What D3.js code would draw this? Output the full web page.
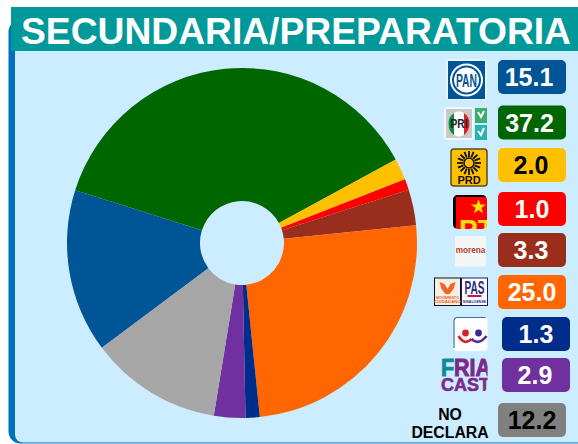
<!DOCTYPE html>
<html>
<head>
<meta charset="utf-8">
<script src="https://cdn.jsdelivr.net/npm/d3@7"></script>
<style>
html, body { margin: 0; padding: 0; background: #fff; }
svg { display: block; font-family: "Liberation Sans", Arial, sans-serif; }
</style>
</head>
<body>
<div id="chart"></div>
<script>
'use strict';

var parties = ['PAN', 'PRI-PVEM-NA', 'PRD', 'PT', 'MORENA', 'MC-PAS', 'PES', 'FRIAS', 'NO DECLARA'];
var shares = [15.1, 37.2, 2.0, 1.0, 3.3, 25.0, 1.3, 2.9, 12.2];
var colors = ['#005596', '#006600', '#FFC000', '#FF0000', '#992E1C', '#FF6600', '#002D8A', '#7030A0', '#A6A6A6'];
var badgeColors = ['#005596', '#006600', '#FFC000', '#FF0000', '#992E1C', '#FF6600', '#002D8A', '#7030A0', '#808080'];
var labelColors = ['#fff', '#fff', '#000', '#fff', '#fff', '#fff', '#fff', '#fff', '#000'];
var title = 'SECUNDARIA/PREPARATORIA';

var width = 578, height = 444;
var svg = d3.select('#chart').append('svg').attr('width', width).attr('height', height);

// panel and title bar
svg.append('rect').attr('x', 8.5).attr('y', 20).attr('width', 620).attr('height', 423.5).attr('rx', 12)
    .attr('fill', '#0070C0');
svg.append('rect').attr('x', 15).attr('y', 12).attr('width', 620).attr('height', 430.5).attr('rx', 8)
    .attr('fill', '#CCECFF');
svg.append('rect').attr('x', 11).attr('y', 7).attr('width', 567).attr('height', 44).attr('fill', '#009999');
svg.append('text').attr('x', 21).attr('y', 44).attr('font-size', 37).attr('font-weight', 'bold')
    .attr('textLength', 550).attr('lengthAdjust', 'spacingAndGlyphs')
    .attr('fill', '#fff').text(title);

// pie
var pie = d3.pie().sort(null).value(function(d){ return d; })
    .startAngle(233.2 * Math.PI / 180).endAngle((233.2 + 360) * Math.PI / 180);
var arc = d3.arc().innerRadius(42).outerRadius(175);

svg.append('g').attr('transform', 'translate(242,243)')
    .selectAll('path').data(pie(shares)).enter().append('path')
    .attr('d', arc)
    .attr('fill', function(d, i){ return colors[i]; });

// value badges, the rows are not evenly spaced in the original
var badgeTops = [60, 105.5, 148, 192, 233, 275, 317, 358, 403];
var labelShift = [-3, -2.5, -1, 0, -1, 0, 0, -1, 0];
var badgeX = function(i){ return (i === 6 || i === 7) ? 502 : 498; };

var badges = svg.append('g').selectAll('g').data(shares).enter().append('g')
    .attr('transform', function(d, i){ return 'translate(' + badgeX(i) + ',' + badgeTops[i] + ')'; });
badges.append('rect').attr('width', 68).attr('height', 34).attr('rx', 5)
    .attr('fill', function(d, i){ return badgeColors[i]; });
badges.append('text').attr('x', function(d, i){ return 34 + labelShift[i]; }).attr('y', 26).attr('text-anchor', 'middle')
    .attr('font-size', 25).attr('font-weight', 'bold')
    .attr('fill', function(d, i){ return labelColors[i]; })
    .text(function(d){ return d.toFixed(1); });

// logos, rough redraws
var logos = svg.append('g');

function logoText(g, x, y, size, txt, fill) {
    return g.append('text').attr('x', x).attr('y', y).attr('font-size', size)
        .attr('font-weight', 'bold').attr('text-anchor', 'middle').attr('fill', fill).text(txt);
}

// PAN
var pan = logos.append('g').attr('transform', 'translate(447,60)');
pan.append('rect').attr('x', -1).attr('y', -1).attr('width', 41).attr('height', 41).attr('rx', 3).attr('fill', '#eaf6fc');
pan.append('rect').attr('x', 1).attr('y', 1).attr('width', 37).attr('height', 38).attr('fill', '#005596');
pan.append('circle').attr('cx', 19.5).attr('cy', 20).attr('r', 16.5).attr('fill', '#fff');
pan.append('circle').attr('cx', 19.5).attr('cy', 20).attr('r', 14.5).attr('fill', '#005596');
pan.append('circle').attr('cx', 19.5).attr('cy', 20).attr('r', 12.5).attr('fill', '#fff');
logoText(pan, 19.5, 27, 19, 'PAN', '#005596').attr('textLength', 21).attr('lengthAdjust', 'spacingAndGlyphs');

// PRI + PVEM + NA
var pri = logos.append('g').attr('transform', 'translate(445,108)');
pri.append('rect').attr('x', -1).attr('y', -1).attr('width', 30).attr('height', 33).attr('rx', 3).attr('fill', '#f2f8fb');
pri.append('rect').attr('x', 1).attr('y', 1).attr('width', 26).attr('height', 29).attr('rx', 1).attr('fill', '#c9c9c9');
pri.append('ellipse').attr('cx', 14).attr('cy', 16).attr('rx', 10.5).attr('ry', 12.5).attr('fill', '#fff');
pri.append('path').attr('d', 'M9,5 A10.5,12.5 0 0 0 9,27 Z').attr('fill', '#0a8a45');
pri.append('path').attr('d', 'M19,5 A10.5,12.5 0 0 1 19,27 Z').attr('fill', '#d8232a');
logoText(pri, 14, 20, 12, 'PRI', '#222').attr('textLength', 17).attr('lengthAdjust', 'spacingAndGlyphs');
pri.append('rect').attr('x', 30).attr('y', 0).attr('width', 12).attr('height', 15).attr('fill', '#3fae6a');
pri.append('rect').attr('x', 30).attr('y', 17).attr('width', 12).attr('height', 15).attr('fill', '#2ab3b0');
pri.append('path').attr('d', 'M33,4 L36,9 L39,3').attr('fill', 'none').attr('stroke', '#fff').attr('stroke-width', 2);
pri.append('path').attr('d', 'M33,23 L36,27 L39,20').attr('fill', 'none').attr('stroke', '#fff').attr('stroke-width', 2);

// PRD
var prd = logos.append('g').attr('transform', 'translate(450,148)');
prd.append('rect').attr('x', 1).attr('y', 1).attr('width', 36).attr('height', 37).attr('rx', 3)
    .attr('fill', '#FFC000').attr('stroke', '#5a4a20').attr('stroke-width', 1.5);
prd.selectAll('line').data(d3.range(16)).enter().append('line')
    .attr('x1', function(d){ return 19 + 6 * Math.cos(d * Math.PI / 8); })
    .attr('y1', function(d){ return 15 + 6 * Math.sin(d * Math.PI / 8); })
    .attr('x2', function(d){ return 19 + 12 * Math.cos(d * Math.PI / 8); })
    .attr('y2', function(d){ return 15 + 12 * Math.sin(d * Math.PI / 8); })
    .attr('stroke', '#111').attr('stroke-width', 1.8);
prd.append('circle').attr('cx', 19).attr('cy', 15).attr('r', 5).attr('fill', '#FFC000').attr('stroke', '#111').attr('stroke-width', 1.5);
logoText(prd, 19, 36, 11, 'PRD', '#111');

// PT
var pt = logos.append('g').attr('transform', 'translate(453,195)');
var clipPt = pt.append('clipPath').attr('id', 'ptClip');
clipPt.append('rect').attr('width', 34).attr('height', 34).attr('rx', 5);
var ptInner = pt.append('g').attr('clip-path', 'url(#ptClip)');
ptInner.append('rect').attr('width', 34).attr('height', 34).attr('fill', '#FF0000');
ptInner.append('path').attr('d', 'M0,0 H34 V2 H3 V34 H0 Z').attr('fill', '#000');
ptInner.append('path').attr('d', d3.symbol().type(d3.symbolStar).size(70)()).attr('transform', 'translate(25.5,12)').attr('fill', '#FFE000');
ptInner.append('text').attr('x', 6).attr('y', 44).attr('font-size', 28).attr('font-weight', 'bold').attr('fill', '#FFE000').text('PT');

// morena
var mor = logos.append('g').attr('transform', 'translate(455,236)');
mor.append('rect').attr('width', 31).attr('height', 30.5).attr('rx', 2).attr('fill', '#f4f6f6');
logoText(mor, 15.5, 17, 8.2, 'morena', '#b5422a');

// MC + PAS
var mc = logos.append('g').attr('transform', 'translate(434.5,278)');
mc.append('rect').attr('width', 26).attr('height', 27.5).attr('fill', '#f5efe6').attr('stroke', '#111');
mc.append('path').attr('d', 'M5,4 L10,6 L13,11 L16,6 L21,4 L19,11 L15,16 H11 L7,11 Z').attr('fill', '#F26522');
logoText(mc, 13, 21, 3.6, 'MOVIMIENTO', '#F26522');
logoText(mc, 13, 25, 4.4, 'CIUDADANO', '#F26522');
mc.append('rect').attr('x', 27).attr('width', 26).attr('height', 27.5).attr('fill', '#fff').attr('stroke', '#1a1a6e');
logoText(mc, 40, 16, 18, 'PAS', '#2b2a80').attr('textLength', 20).attr('lengthAdjust', 'spacingAndGlyphs');
mc.append('rect').attr('x', 33).attr('y', 17).attr('width', 14).attr('height', 2).attr('fill', '#c2185b');
logoText(mc, 40, 25, 3.6, 'SINALOENSE', '#2b2a80');

// PES
var pes = logos.append('g').attr('transform', 'translate(453.5,317)');
pes.append('rect').attr('width', 34).attr('height', 34).attr('rx', 4).attr('fill', '#fff');
pes.append('path').attr('d', 'M0.5,31 V4 Q0.5,0.5 4,0.5 H32').attr('fill', 'none').attr('stroke', '#3a6fb0').attr('stroke-width', 1.2);
pes.append('circle').attr('cx', 12).attr('cy', 16).attr('r', 3.4).attr('fill', '#d2232a');
pes.append('circle').attr('cx', 25).attr('cy', 16).attr('r', 3.4).attr('fill', '#3b2a8c');
pes.append('path').attr('d', 'M5,19 Q11,29 18,22').attr('fill', 'none').attr('stroke', '#d2232a').attr('stroke-width', 2.6);
pes.append('path').attr('d', 'M18,22 Q25,29 33,19').attr('fill', 'none').attr('stroke', '#5b2d90').attr('stroke-width', 2.6);

// Frias Castro, cut off at the right edge like the original logo
var fri = logos.append('g').attr('transform', 'translate(440,358)');
var clipFri = fri.append('clipPath').attr('id', 'friClip');
clipFri.append('rect').attr('width', 47.5).attr('height', 33.5).attr('rx', 5);
var friInner = fri.append('g').attr('clip-path', 'url(#friClip)');
var friTop = friInner.append('text').attr('x', 1).attr('y', 18).attr('font-size', 24).attr('font-weight', 'bold')
    .attr('stroke-width', 1).attr('textLength', 50).attr('lengthAdjust', 'spacingAndGlyphs');
friTop.append('tspan').attr('fill', '#0f8a99').attr('stroke', '#0f8a99').text('F');
friTop.append('tspan').attr('fill', '#7b2a8c').attr('stroke', '#7b2a8c').text('RIA');
friInner.append('text').attr('x', 1).attr('y', 33).attr('font-size', 18).attr('font-weight', 'bold')
    .attr('fill', '#7b2a8c').attr('stroke', '#7b2a8c').attr('stroke-width', 0.6).text('CAST');

// no declara label
svg.append('text').attr('x', 450).attr('y', 420).attr('text-anchor', 'middle').attr('font-size', 15.8).attr('font-weight', 'bold').text('NO');
svg.append('text').attr('x', 450).attr('y', 438).attr('text-anchor', 'middle').attr('font-size', 15.8).attr('font-weight', 'bold').text('DECLARA');
</script>
</body>
</html>
